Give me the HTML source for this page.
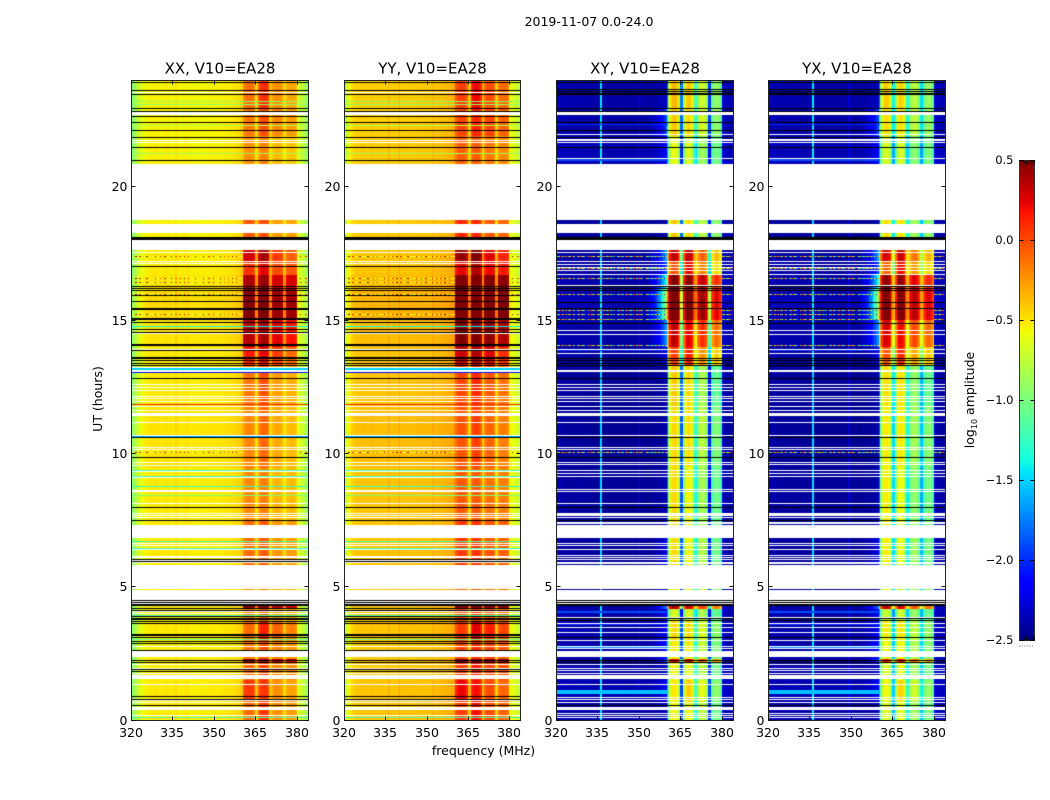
<!DOCTYPE html>
<html lang="en">
<head>
<meta charset="utf-8">
<title>2019-11-07 0.0-24.0</title>
<style>
html,body{margin:0;padding:0;background:#fff;width:1050px;height:800px;overflow:hidden}
#figure{position:relative;width:1050px;height:800px}
canvas{position:absolute;display:block}
svg{position:absolute;left:0;top:0}
text{font-family:"DejaVu Sans","Liberation Sans",sans-serif;fill:#000}
</style>
</head>
<body>
<div id="figure">
<canvas id="hm0" width="177" height="640" style="left:131px;top:80px"></canvas>
<canvas id="hm1" width="176" height="640" style="left:344px;top:80px"></canvas>
<canvas id="hm2" width="177" height="640" style="left:556px;top:80px"></canvas>
<canvas id="hm3" width="177" height="640" style="left:768px;top:80px"></canvas>
<canvas id="cbar" width="16" height="480" style="left:1019px;top:160px"></canvas>
<svg id="overlay" width="1050" height="800">
<text x="589" y="26" font-size="12.5" text-anchor="middle">2019-11-07 0.0-24.0</text>
<text x="483.5" y="755" font-size="12.5" text-anchor="middle">frequency (MHz)</text>
<text transform="translate(102,399) rotate(-90)" font-size="12.5" text-anchor="middle">UT (hours)</text>
<text transform="translate(974,400) rotate(-90)" font-size="12.5" text-anchor="middle">log<tspan font-size="8" dy="3">10</tspan><tspan dy="-3"> amplitude</tspan></text>
</svg>
</div>
<script>
/* ---------- axis data ---------- */
const panelTitles = ["XX, V10=EA28","YY, V10=EA28","XY, V10=EA28","YX, V10=EA28"];
const freqTicks = [320,335,350,365,380];
const utTicks = [0,5,10,15,20];
const colorbarTicks = ["0.5","0.0","\u22120.5","\u22121.0","\u22121.5","\u22122.0","\u22122.5"];
const colorbarTickValues = [0.5,0,-0.5,-1,-1.5,-2,-2.5];

/* ---------- log10 amplitude per 0.5 MHz channel (320..384 MHz) ---------- */
const profileXX = [
-1,-.93,-.86,-.78,-.72,-.68,-.64,-.61,-.59,-.56,-.54,-.53,-.52,-.52,-.51,-.51,
-.51,-.5,-.5,-.51,-.52,-.53,-.52,-.51,-.5,-.5,-.51,-.51,-.52,-.52,-.53,-.52,
-.46,-.52,-.53,-.53,-.53,-.52,-.52,-.52,-.5,-.52,-.53,-.53,-.53,-.53,-.53,-.53,
-.53,-.53,-.53,-.53,-.52,-.52,-.52,-.52,-.52,-.52,-.52,-.52,-.5,-.52,-.52,-.52,
-.51,-.51,-.51,-.5,-.5,-.5,-.5,-.49,-.49,-.48,-.48,-.47,-.46,-.45,-.44,-.42,
-.4,-.33,-.26,-.23,-.22,-.22,-.22,-.23,-.26,-.33,-.5,-.5,-.28,-.2,-.16,-.15,
-.15,-.16,-.18,-.26,-.48,-.48,-.38,-.32,-.3,-.3,-.3,-.3,-.32,-.38,-.5,-.5,
-.38,-.34,-.32,-.32,-.32,-.32,-.34,-.38,-.6,-.65,-.68,-.7,-.73,-.78,-.85,-.95];
const profileYY = [
-.82,-.72,-.64,-.56,-.5,-.47,-.44,-.42,-.41,-.4,-.4,-.4,-.39,-.39,-.39,-.39,
-.4,-.4,-.4,-.39,-.38,-.38,-.39,-.4,-.4,-.4,-.39,-.39,-.39,-.4,-.4,-.4,
-.29,-.4,-.4,-.39,-.39,-.39,-.39,-.39,-.29,-.39,-.39,-.39,-.39,-.39,-.39,-.39,
-.39,-.39,-.39,-.39,-.38,-.38,-.38,-.38,-.38,-.38,-.38,-.38,-.38,-.38,-.38,-.38,
-.29,-.37,-.37,-.37,-.36,-.36,-.35,-.35,-.35,-.34,-.34,-.33,-.33,-.32,-.31,-.3,
-.24,-.16,-.1,-.07,-.06,-.06,-.06,-.07,-.1,-.18,-.44,-.44,-.14,-.07,-.03,-.02,
-.02,-.03,-.05,-.14,-.44,-.44,-.18,-.11,-.09,-.08,-.08,-.09,-.11,-.18,-.46,-.46,
-.2,-.15,-.13,-.12,-.12,-.13,-.15,-.2,-.55,-.57,-.6,-.63,-.65,-.67,-.71,-.76];
const profileXY = [
-2.42,-2.42,-2.41,-2.41,-2.42,-2.42,-2.43,-2.43,-2.43,-2.44,-2.44,-2.44,-2.44,-2.44,-2.44,-2.44,
-2.44,-2.44,-2.44,-2.44,-2.44,-2.44,-2.44,-2.45,-2.45,-2.45,-2.45,-2.45,-2.45,-2.45,-2.45,-2.45,
-1.5,-2.45,-2.46,-2.46,-2.46,-2.46,-2.46,-2.46,-2.46,-2.46,-2.46,-2.46,-2.46,-2.46,-2.46,-2.46,
-2.46,-2.46,-2.46,-2.46,-2.46,-2.46,-2.46,-2.46,-2.46,-2.46,-2.46,-2.46,-2.25,-2.46,-2.46,-2.46,
-2.46,-2.46,-2.46,-2.46,-2.46,-2.46,-2.45,-2.45,-2.45,-2.44,-2.44,-2.43,-2.43,-2.42,-2.41,-2.4,
-1.9,-1,-.7,-.55,-.5,-.5,-.5,-.55,-.7,-1,-1.9,-1.95,-.95,-.7,-.6,-.55,
-.55,-.6,-.7,-1,-1.3,-1.4,-1,-.85,-.75,-.7,-.7,-.75,-.85,-1.05,-2,-2,
-1.2,-1.05,-.95,-.9,-.9,-.95,-1.05,-1.2,-2.3,-2.38,-2.4,-2.4,-2.42,-2.42,-2.43,-2.43];
const profileYX = [
-2.42,-2.42,-2.41,-2.41,-2.42,-2.42,-2.43,-2.43,-2.43,-2.44,-2.44,-2.44,-2.44,-2.44,-2.44,-2.44,
-2.44,-2.44,-2.44,-2.44,-2.44,-2.44,-2.44,-2.45,-2.45,-2.45,-2.45,-2.45,-2.45,-2.45,-2.45,-2.45,
-1.5,-2.45,-2.46,-2.46,-2.46,-2.46,-2.46,-2.46,-2.46,-2.46,-2.46,-2.46,-2.46,-2.46,-2.46,-2.46,
-2.46,-2.46,-2.46,-2.46,-2.46,-2.46,-2.46,-2.46,-2.46,-2.46,-2.3,-2.46,-2.46,-2.46,-2.46,-2.46,
-2.46,-2.46,-2.46,-2.46,-2.46,-2.46,-2.45,-2.45,-2.45,-2.44,-2.44,-2.43,-2.43,-2.42,-2.41,-2.4,
-1.9,-1.1,-.8,-.62,-.58,-.55,-.58,-.62,-.8,-1.1,-1.5,-1.55,-1,-.75,-.62,-.58,
-.58,-.62,-.75,-1.05,-1.4,-1.45,-1.05,-.92,-.82,-.78,-.78,-.82,-.92,-1.1,-1.45,-1.5,
-1.2,-1.02,-.92,-.88,-.88,-.92,-1.02,-1.2,-2.3,-2.38,-2.4,-2.4,-2.42,-2.42,-2.43,-2.43];

/* ---------- time-varying gains: UT start, UT end, sub-band 1..4, sky[, cross wing] ---------- */
const parallelSegments = [
[22.9,24,.1,.24,.08,.02,-.03],[21.9,22.9,.08,.14,.1,.05,-.03],[20.8,21.9,0,-.03,-.06,-.08,-.02],
[17.7,20.8,.18,.14,.04,.04,-.02],[17.2,17.7,.52,.56,.35,.25,0],[16.7,17.2,.3,.4,.3,.28,0],
[16.2,16.7,.62,.6,.6,.6,.02],[15,16.2,.74,.74,.74,.74,.05],[14,15,.58,.55,.55,.5,.02],
[13.3,14,.38,.4,.35,.22,0],[11.8,13.3,.08,.14,.04,0,0],[9.5,11.8,.03,.06,0,-.04,.02],
[7.5,9.5,.02,-.02,-.04,-.04,0],[5.8,7.5,.12,.1,.06,.06,0],[4.3,5.8,0,0,0,0,0],
[4.15,4.3,.75,.65,.65,.6,0],[3.7,4.15,.05,.05,.02,0,-.02],[3,3.7,.12,.28,.22,.14,0],
[2.3,3,.08,.12,.12,.08,-.02],[2.15,2.3,.75,.65,.65,.6,0],[1.5,2.15,.12,.18,.12,.12,-.02],
[.7,1.5,.28,.22,.08,.04,0],[0,.7,.12,.22,.08,.06,0]];
const crossSegments = [
[22.9,24,.15,.15,.02,0,.06,0],[21.9,22.9,.1,.1,.05,0,.05,.3],[20.8,21.9,-.1,-.08,-.15,-.1,.08,.1],
[17.7,20.8,.1,.1,-.05,0,.01,0],[17.2,17.7,.85,.9,.65,.55,.03,.5],[16.7,17.2,.5,.8,.55,.45,.04,.3],
[16.2,16.7,1.05,1.05,1.05,1,.06,.7],[15,16.2,1.15,1.15,1.15,1.15,.08,1.05],[14,15,.85,.8,.8,.8,.05,.45],
[13.3,14,.55,.7,.5,.5,.03,.1],[11.8,13.3,.1,.1,-.1,-.15,.01,0],[9.5,11.8,.05,.08,-.05,-.05,.01,0],
[7.5,9.5,.05,0,-.12,-.12,.02,0],[5.8,7.5,.05,0,-.08,-.1,.02,.1],[4.3,5.8,0,0,0,0,0,0],
[4.15,4.3,.9,.85,.75,.75,.05,.4],[3.7,4.15,-.15,-.1,-.1,-.15,.05,.1],[3,3.7,.05,.1,.05,0,.06,.1],
[2.3,3,0,.05,0,-.05,.05,.2],[2.15,2.3,.75,.8,.7,.6,.04,.3],[1.5,2.15,-.05,0,-.05,-.1,.06,0],
[.7,1.5,0,.15,.1,0,.08,.1],[0,.7,-.05,0,-.05,-.1,.05,0]];
const crossWing = [.05,.1,.15,.2,.25,.32,.4,.5,.6,.7,.85,1,1.2,1.4,1.6];

/* ---------- flagged time ranges (UT hours) ---------- */
const flaggedRanges = [[22.67,22.8],[18.75,20.85],[18.26,18.6],[17.63,18.04],[13.05,13.125],[11.41,11.51],
[6.82,7.3],[4.91,5.81],[4.5,4.875],[2.37,2.59],[1.53,1.69],[.375,.5]];
const whiteLinesParallel = [23.55,21.75,21.66,17.54,17.21,17.14,14.5,13.91,13.24,12.59,12.5,12.36,12.16,12.08,11.95,
11.79,11.64,11.18,10.68,10.23,10.16,9.66,9.56,9.33,9.12,8.62,8.58,8.13,7.75,7.7,7.61,6.63,6.58,6.41,6.16,6.11,6.01,5.91,
4.46,4.38,4.07,4.03,2.79,2.1,1.96,1.75,1.35,.69,.74,.19];
const whiteLinesCross = [23.93,23.53,21.97,21.79,21.74,21.68,21.07,17.55,17.21,17.11,17,16.88,16.71,16.3,14.63,14.47,
13.91,13.76,12.59,12.5,12.36,12.16,12.08,11.95,11.79,11.64,11.18,10.68,10.23,10.16,9.66,9.6,9.38,9.27,9.15,
8.65,8.6,8.13,7.76,7.72,7.68,7.61,7.41,7.37,6.63,6.58,6.41,6.19,6.11,6.03,5.94,5.88,4.46,4.38,3.85,3.65,3.49,3.3,3.13,3,
2.79,2.71,2.1,1.95,1.89,1.75,1.35,.87,.79,.68,.25,.19,.12];
const blackLinesParallel = [23.94,23.61,23.48,22.95,22.84,22.65,22.42,22.13,21.86,21.49,21,18.11,18.07,18.04,17.04,
16.27,16.21,16.13,15.94,15.71,15.46,15.4,15.07,15.04,14.94,14.66,14.54,14.09,14.05,13.86,13.61,13.57,13.5,13.4,13.31,
12.82,10.62,9.85,7.98,7.49,6.05,5.95,4.49,4.41,4.36,4.3,4.2,4.13,3.89,3.83,3.78,3.7,3.63,3.24,3.18,3.11,2.96,2.9,2.61,
2.24,2.18,1.9,1.85,.91,.78,.57];
const blackLinesCross = [23.94,23.65,23.6,23.5,23.46,22.95,22.84,22.42,22.11,21.86,21.49,18.11,18.07,18.04,
16.27,16.21,16.13,15.68,15.46,14.87,13.59,13.5,13.4,13.31,12.82,10.62,9.85,7.98,7.49,
4.49,4.42,4.36,4.3,3.83,3.75,3.13,2.24,2.18,.57,.55];
const colourLinesParallel = [[23.2,-.95],[23.1,-.95],[22.3,-.85],[21.27,-.9],[14.78,-1.4],[13.19,-1.5],[13.15,-1.5],[13.04,-2.1],
[11.84,.1],[10.65,-1.6],[9.38,-1.2],[9.15,-1.2],[8.76,-1.25],[8.43,-1],[6.7,-1.2],[6.46,-1.25],[3.95,-1.2],[3.05,-1.1],[.1,-1.2]];
const skyLinesCross = [[.97,1.12,-1.55],[2.68,2.76,-1.7],[3.55,3.62,-2],[4,4.08,-1.9],[13.85,13.92,-2],[22.3,22.36,-2],[20.95,21.02,-1.9]];

/* ---------- RFI-speckled integrations ---------- */
const speckleLinesParallel = [17.39,16.58,16.44,15.96,15.22,10.04];
const speckleLinesCross = [17.39,16.96,16.58,15.96,15.39,15.22,15.02,14.06,10.04];
const speckleValues = [-.1,-1.2,-.5,.35,-.7,-1.5,.1,-.9,-2.2,-.4,-1,.3,-.6,-1.3,-2.3,-.2,-.8,.45,-1.1,-.5,-1.6,0,-2.1,-.7,.2,-1.4,-.3,-1,-2.2,.4,-.6,-1.2,-.1,-1.7,-.9];

/* ---------- scales ---------- */
const xDomain = [320,384];
const yDomain = [0,24];
const colorDomain = [-2.5,.5];
const plotTop = 80, plotBottom = 720;
const panelLefts = [131,344,556,768];
const panelRights = [308,520,733,945];
const channelCount = 128;
const channelMHz = .5;
function xScale(f,p){return panelLefts[p]+(f-xDomain[0])/(xDomain[1]-xDomain[0])*(panelRights[p]-panelLefts[p]);}
function yScale(u){return plotBottom-(u-yDomain[0])/(yDomain[1]-yDomain[0])*(plotBottom-plotTop);}
function interp(t,pts){
  for(let i=1;i<pts.length;i++){
    if(t<=pts[i][0]){const a=pts[i-1],b=pts[i];return a[1]+(b[1]-a[1])*(t-a[0])/(b[0]-a[0]);}
  }
  return pts[pts.length-1][1];
}
const jetR=[[0,0],[.35,0],[.66,1],[.89,1],[1,.5]];
const jetG=[[0,0],[.125,0],[.375,1],[.64,1],[.91,0],[1,0]];
const jetB=[[0,.5],[.11,1],[.34,1],[.65,0],[1,0]];
function jet(v){
  const t=Math.max(0,Math.min(1,(v-colorDomain[0])/(colorDomain[1]-colorDomain[0])));
  return "rgb("+Math.round(255*interp(t,jetR))+","+Math.round(255*interp(t,jetG))+","+Math.round(255*interp(t,jetB))+")";
}
function subbandOf(c){return c<92?0:c<102?1:c<112?2:3;}
function isGap(c){return c===90||c===91||c===100||c===101||c===110||c===111;}
function inBand(c){return c>=81&&c<=119;}

/* ---------- heatmaps ---------- */
const panels = [
 {profile:profileXX,cross:false},{profile:profileYY,cross:false},
 {profile:profileXY,cross:true},{profile:profileYX,cross:true}];

function cellValue(panel,seg,c){
  const base=panel.profile[c];
  if(inBand(c)){
    const w=isGap(c)?(panel.cross?1.05:.45):1;
    return base+seg[2+subbandOf(c)]*w;
  }
  let v=base+seg[6];
  if(panel.cross&&c>=66&&c<81){v+=seg[7]*crossWing[c-66];}
  return v;
}
function drawPanel(idx){
  const panel=panels[idx];
  const cv=document.getElementById("hm"+idx);
  const ctx=cv.getContext("2d");
  const left=panelLefts[idx];
  const colX=[];
  for(let c=0;c<=channelCount;c++){colX.push(Math.round(xScale(xDomain[0]+c*channelMHz,idx)-left));}
  function rowY(u){return Math.round(yScale(u)-plotTop);}
  function fullRow(u,color){ctx.fillStyle=color;ctx.fillRect(0,rowY(u),cv.width,1);}
  const segs=panel.cross?crossSegments:parallelSegments;
  ctx.fillStyle="#fff";ctx.fillRect(0,0,cv.width,cv.height);
  segs.forEach(function(seg){
    const y0=rowY(seg[1]),y1=rowY(seg[0]);
    for(let c=0;c<channelCount;c++){
      ctx.fillStyle=jet(cellValue(panel,seg,c));
      ctx.fillRect(colX[c],y0,colX[c+1]-colX[c],y1-y0);
    }
  });
  if(panel.cross){
    skyLinesCross.forEach(function(l){
      const y0=rowY(l[1]),y1=rowY(l[0]);
      for(let c=0;c<81;c++){
        ctx.fillStyle=jet(l[2]);
        ctx.fillRect(colX[c],y0,colX[c+1]-colX[c],Math.max(1,y1-y0));
      }
    });
  } else {
    colourLinesParallel.forEach(function(l){fullRow(l[0],jet(l[1]));});
  }
  (panel.cross?speckleLinesCross:speckleLinesParallel).forEach(function(u){
    const y=rowY(u);
    for(let c=0;c<channelCount;c++){
      if(inBand(c))continue;
      const s=speckleValues[c%speckleValues.length];
      if(panel.cross){
        ctx.fillStyle=jet(s);
      } else {
        ctx.fillStyle=jet(s>-.15?s+.1:-.55+panel.profile[c]*.1);
      }
      ctx.fillRect(colX[c],y,colX[c+1]-colX[c],1);
    }
  });
  flaggedRanges.forEach(function(r){
    const y0=rowY(r[1]),y1=rowY(r[0]);
    ctx.fillStyle="#fff";ctx.fillRect(0,y0,cv.width,y1-y0);
  });
  (panel.cross?whiteLinesCross:whiteLinesParallel).forEach(function(u){fullRow(u,"#fff");});
  (panel.cross?blackLinesCross:blackLinesParallel).forEach(function(u){fullRow(u,"#000");});
}
[0,1,2,3].forEach(drawPanel);

/* ---------- colorbar ---------- */
(function(){
  const cv=document.getElementById("cbar");
  const ctx=cv.getContext("2d");
  for(let y=0;y<cv.height;y++){
    const v=colorDomain[1]-(y+.5)/cv.height*(colorDomain[1]-colorDomain[0]);
    ctx.fillStyle=jet(v);
    ctx.fillRect(0,y,cv.width,1);
  }
})();

/* ---------- axes overlay ---------- */
const NS="http://www.w3.org/2000/svg";
const overlay=document.getElementById("overlay");
function addLine(x1,y1,x2,y2,name,color){
  const el=document.createElementNS(NS,"line");
  el.setAttribute("x1",x1);el.setAttribute("y1",y1);el.setAttribute("x2",x2);el.setAttribute("y2",y2);
  el.setAttribute("stroke",color||"#111");el.setAttribute("stroke-width","1");
  
  
  overlay.appendChild(el);
}
function addText(x,y,str,anchor,size,name){
  const el=document.createElementNS(NS,"text");
  el.setAttribute("x",x);el.setAttribute("y",y);el.setAttribute("text-anchor",anchor);el.setAttribute("font-size",size);
  el.textContent=str;
  
  
  overlay.appendChild(el);
}
panelTitles.forEach(function(title,p){
  const l=panelLefts[p]+.5,r=panelRights[p]+.5,t=plotTop+.5,b=plotBottom+.5;
  const frame=document.createElementNS(NS,"rect");
  frame.setAttribute("x",l);frame.setAttribute("y",t);frame.setAttribute("width",r-l);frame.setAttribute("height",b-t);
  frame.setAttribute("fill","none");frame.setAttribute("stroke","#222");frame.setAttribute("stroke-width","1");
  
  
  overlay.appendChild(frame);
  addText((l+r)/2,73.5,title,"middle",15,"panel-title");
  freqTicks.forEach(function(f){
    const x=Math.round(xScale(f,p))+.5;
    addLine(x,b,x,b-4,"x-tick");
    addLine(x,t,x,t+4,"x-tick-top");
    addText(x-.5,737,String(f),"middle",12.5,"x-tick-label");
  });
  utTicks.forEach(function(u){
    const y=Math.floor(yScale(u))+.5;
    addLine(l,y,l+4,y,"y-tick");
    addLine(r,y,r-4,y,"y-tick-right");
    addText(l-4,y+4.5,String(u),"end",12.5,"y-tick-label");
  });
});
/* colorbar frame, ticks and labels */
(function(){
  const l=1019.5,r=1034.5,t=160.5,b=640.5;
  const frame=document.createElementNS(NS,"rect");
  frame.setAttribute("x",l);frame.setAttribute("y",t);frame.setAttribute("width",r-l);frame.setAttribute("height",b-t);
  frame.setAttribute("fill","none");frame.setAttribute("stroke","#333");frame.setAttribute("stroke-width","1");
  
  
  overlay.appendChild(frame);
  colorbarTicks.forEach(function(label,i){
    const v=colorbarTickValues[i];
    const y=Math.round(160+(colorDomain[1]-v)/(colorDomain[1]-colorDomain[0])*480)+.5;
    addLine(l,y,l+4,y,"colorbar-tick","#000");
    addLine(r,y,r-4,y,"colorbar-tick-right","#000");
    addText(1013.5,y+3.5,label,"end",11.5,"colorbar-tick-label");
  });
  [0,1,2,3,4,5].forEach(function(i){
    const x=1021.5+i*2.6;
    addLine(x,t,x,t+4,"colorbar-cap-tick-top","#000");
    addLine(x,b,x,b-4,"colorbar-cap-tick-bottom","#000");
    addLine(x-2.5,646,x-1.5,646,"colorbar-dot","#777");
  });
})();
</script>
</body>
</html>
